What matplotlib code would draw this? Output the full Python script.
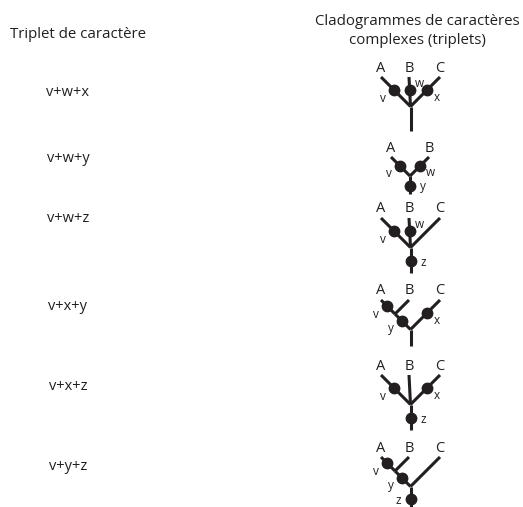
import matplotlib.pyplot as plt

plt.rcParams['font.family'] = ['Open Sans', 'DejaVu Sans']

# left column: character triplets
row_labels = ["v+w+x", "v+w+y", "v+w+z", "v+x+y", "v+x+z", "v+y+z"]
row_label_y = [91, 157, 217, 305, 384, 464]

# right column: one cladogram per triplet (nested tuples = clades)
topologies = [("A", "B", "C"), ("A", "B"), ("A", "B", "C"),
              (("A", "B"), "C"), ("A", "B", "C"), (("A", "B"), "C")]
# character carried by each edge (edge named by its clade, "root" = stem)
characters = [
    {"A": "v", "B": "w", "C": "x"},
    {"A": "v", "B": "w", "root": "y"},
    {"A": "v", "B": "w", "root": "z"},
    {"A": "v", "AB": "y", "C": "x"},
    {"A": "v", "C": "x", "root": "z"},
    {"A": "v", "AB": "y", "root": "z"},
]
root_label_side = ["e", "e", "e", "e", "e", "w"]

# layout (pixels)
tree_x = 410
tip_y = [77, 157, 218, 300, 375, 457]
stem_len = [24, 18, 25, 16, 25, 22]
tip_offsets3 = {"A": -29, "B": -1, "C": 30}
tip_offsets2 = {"A": -19, "B": 19}
ink = "#231f20"

fig = plt.figure(figsize=(5.23, 5.07), dpi=100, facecolor="white")
ax = fig.add_axes([0, 0, 1, 1])
ax.set_xlim(0, 523)
ax.set_ylim(507, 0)
ax.axis("off")

ax.text(78, 35, "Triplet de caractère", ha="center", va="center", fontsize=10.8, color=ink)
ax.text(417, 31, "Cladogrammes de caractères\ncomplexes (triplets)", ha="center", va="center",
        fontsize=10.8, color=ink, linespacing=1.3)

for lab, y in zip(row_labels, row_label_y):
    ax.text(68, y + 2, lab, ha="center", va="center", fontsize=10.5, color=ink)


def name(node):
    return node if isinstance(node, str) else "".join(name(c) for c in node)


def layout(node, tips, top, edges, pos):
    # 45 degree cladogram: clade node sits under the middle of its outer tips
    if isinstance(node, str):
        pos[node] = (tips[node], top)
        return tips[node], tips[node]
    lo, hi = None, None
    for child in node:
        l, h = layout(child, tips, top, edges, pos)
        lo = l if lo is None else min(lo, l)
        hi = h if hi is None else max(hi, h)
    pos[name(node)] = ((lo + hi) / 2, top + (hi - lo) / 2)
    for child in node:
        edges.append((name(child), name(node)))
    return lo, hi


offsets = {"sw": (-11, 8), "se": (10, 7), "ne": (10, -7), "e": (13, 1), "w": (-12, 2)}

for i, topo in enumerate(topologies):
    tips = {k: tree_x + v for k, v in (tip_offsets3 if len(name(topo)) == 3 else tip_offsets2).items()}
    edges, pos = [], {}
    layout(topo, tips, tip_y[i], edges, pos)
    rx, ry = pos[name(topo)]
    pos["root"] = (rx, ry)
    edges.append(("root", None))
    for child, parent in edges:
        cx, cy = pos[child]
        if parent is None:
            px, py = rx, ry + stem_len[i]
            ax.plot([rx, rx], [ry, py], color=ink, lw=2.2, solid_capstyle="butt")
        else:
            px, py = pos[parent]
            ax.plot([cx, px], [cy, py], color=ink, lw=2.2, solid_capstyle="butt")
        ch = characters[i].get(child)
        if ch:
            f = 0.55 if parent is None else 0.45
            dx, dy = cx + (px - cx) * f, cy + (py - cy) * f
            ax.plot(dx, dy, "o", color=ink, ms=7.5, zorder=3)
            if parent is None:
                side = root_label_side[i]
            elif px - cx > 3:
                side = "sw"
            elif cx - px > 3:
                side = "se"
            else:
                side = "ne"
            ox, oy = offsets[side]
            ax.text(dx + ox, dy + oy, ch, ha="center", va="center", fontsize=8.5, color=ink)
    for taxon, tx in tips.items():
        ax.text(tx, tip_y[i] - 9, taxon, ha="center", va="center", fontsize=10.5, color=ink)

fig.savefig("out.png", dpi=100, facecolor="white")
